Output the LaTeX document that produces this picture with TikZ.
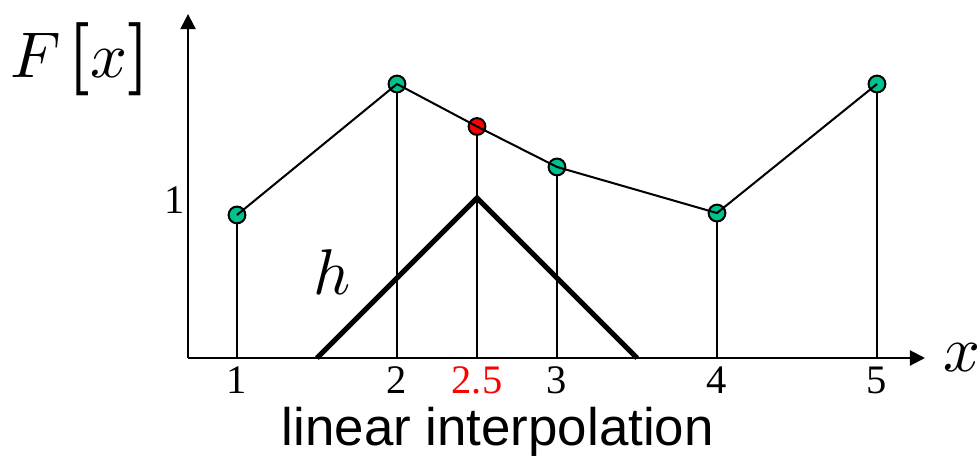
\documentclass[tikz,border=0pt]{standalone}
\usepackage{fix-cm}
\usepackage{fontspec}
\setmainfont{Liberation Serif}
\setsansfont{Liberation Sans}
\usetikzlibrary{arrows.meta, positioning}
\definecolor{sampleGreen}{HTML}{00C28E}
\definecolor{interpRed}{HTML}{FF0000}
\newcommand{\bigbrack}[1]{\mbox{\boldmath\fontsize{13}{13}\selectfont$#1$}}

\begin{document}
\begin{tikzpicture}[
    axisline/.style={line width=0.36pt, -{Triangle[length=0.95mm, width=0.95mm]}},
    stem/.style={line width=0.36pt},
    hat/.style={line width=0.9pt},
    sample/.style={circle, draw=black, line width=0.36pt, fill=sampleGreen,
                   minimum size=1.05mm, inner sep=0pt},
    interp/.style={sample, fill=interpRed},
    ticklabel/.style={font=\rmfamily\fontsize{7.2}{8}\selectfont, inner sep=0pt},
    mathlabel/.style={font=\fontsize{11.5}{13}\selectfont, inner sep=0pt},
  ]
    \useasboundingbox (-0.48125,-0.6125) rectangle (5.63125,2.2375);

    % axes
    \coordinate (o) at (0.694,0);
    \coordinate (xend) at (5.3,0);
    \coordinate (yend) at (0.694,2.15);
    \draw[axisline] (o) -- (xend);
    \draw[axisline] (o) -- (yend);
    \node[mathlabel] (xlab) at (5.53,0) {$x$};
    \node[mathlabel] (Flab) at (0.02,1.87) {$F\mkern2mu\bigbrack{[}x\bigbrack{]}$};
    \node[ticklabel] (one) at (0.6125,0.9875) {1};

    % samples and the interpolated value
    \node[sample] (p1) at (1,0.894) {};
    \node[sample] (p2) at (2,1.7125) {};
    \node[interp] (p25) at (2.5,1.447) {};
    \node[sample] (p3) at (3,1.194) {};
    \node[sample] (p4) at (4,0.906) {};
    \node[sample] (p5) at (5,1.7125) {};

    % stems down to the axis, with tick labels
    \foreach \p/\x in {p1/1, p2/2, p25/2.5, p3/3, p4/4, p5/5} {
      \coordinate (b\p) at (\x,0);
      \draw[stem] (\p) -- (b\p);
    }
    \node[ticklabel, below=0.05cm of bp1] (t1) {1};
    \node[ticklabel, below=0.05cm of bp2] (t2) {2};
    \node[ticklabel, below=0.05cm of bp25, text=interpRed] (t25) {2.5};
    \node[ticklabel, below=0.05cm of bp3] (t3) {3};
    \node[ticklabel, below=0.05cm of bp4] (t4) {4};
    \node[ticklabel, below=0.05cm of bp5] (t5) {5};

    \draw[stem] (p1.center) -- (p2.center) -- (p25.center) -- (p3.center)
      -- (p4.center) -- (p5.center);

    % hat kernel
    \coordinate (hl) at (1.5,0);
    \coordinate (hp) at (2.5,1);
    \coordinate (hr) at (3.5,0);
    \draw[hat] (hl) -- (hp) -- (hr);
    \node[mathlabel] (hlab) at (1.594,0.5375) {$h$};

    \node[font=\sffamily\fontsize{9.4}{11}\selectfont] (title) at (2.63,-0.4625)
      {linear interpolation};
\end{tikzpicture}
\end{document}
